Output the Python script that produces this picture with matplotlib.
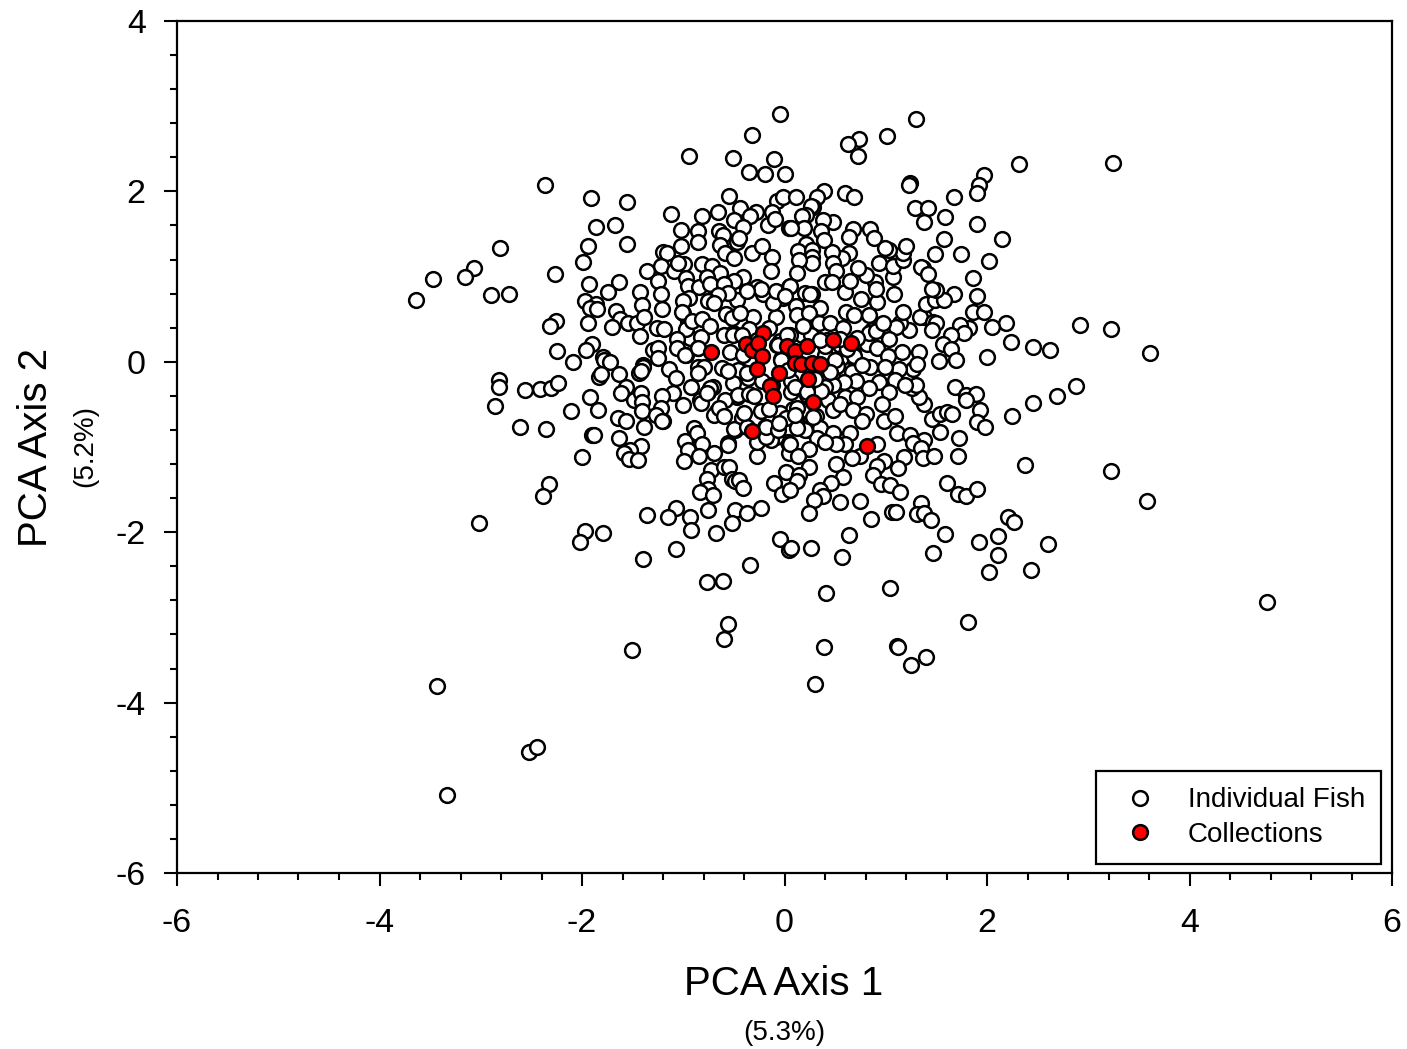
"""
PCA of individual fish and collections, axis 1 against axis 2.
Values read off the picture.
"""

import matplotlib
matplotlib.use("Agg")
import matplotlib.pyplot as plt
from matplotlib.ticker import MultipleLocator

plt.rcParams["font.family"] = ["Liberation Sans", "DejaVu Sans"]
plt.rcParams["axes.unicode_minus"] = False

fish_points = [
    # partly hidden ones in the crowded middle, these go underneath
    (-0.69,0.77),(0.86,0.37),(0.55,0.20),(0.68,0.10),(0.81,0.21),(0.59,-0.08),(0.67,-0.12),(0.42,-0.17),
    (0.34,-0.05),(-0.41,-0.12),(-0.85,-0.06),(-0.71,-0.29),(-0.76,-0.35),(-0.47,-0.41),(-0.67,-0.58),(-0.70,-0.62),
    (-0.42,-0.66),(-0.49,-0.80),(-0.19,-0.76),(-0.14,-0.90),(0.08,-0.55),(0.18,-0.58),(-0.04,-0.60),(0.15,-0.76),
    (0.22,-0.80),(0.03,-0.94),(-0.08,-0.88),(-0.56,-0.95),(-0.82,-0.96),(-0.93,0.28),(-0.97,0.08),(-0.85,0.16),
    (-0.95,0.47),(-1.0,0.57),(-0.66,0.79),(-0.47,0.73),(-0.37,0.85),(-0.01,0.75),(0.27,0.79),(-0.21,0.79),
    (-0.51,0.34),(0.42,0.26),(-0.04,0.24),(-0.07,0.20),(0.17,0.32),(-0.03,0.03),(-0.46,-0.10),(0.06,-0.23),
    (0.48,-0.53),(0.43,-0.45),(0.22,-0.39),(0.13,-0.56),
    # upper left
    (-0.04,2.91),(-0.32,2.66),(-0.94,2.41),(-0.51,2.39),(-0.10,2.38),(-0.35,2.23),(-0.19,2.21),(0.0,2.20),
    (-2.37,2.07),(-1.91,1.92),(-1.56,1.87),(-0.55,1.95),(-0.07,1.89),(-0.01,1.93),(-1.12,1.73),(-0.66,1.76),
    (-0.81,1.71),(-0.44,1.80),(-0.28,1.76),(-0.12,1.76),(-0.34,1.71),(-0.50,1.66),(-0.41,1.58),(-0.16,1.61),
    (-0.09,1.68),(0.04,1.57),(-1.86,1.58),(-1.67,1.60),(-1.56,1.38),(-1.94,1.36),(-1.99,1.17),(-2.27,1.03),
    (-2.81,1.34),(-3.07,1.10),(-2.90,0.78),(-2.72,0.79),(-3.64,0.73),(-3.47,0.97),(-3.16,0.99),
    (-1.02,1.55),(-0.85,1.53),(-0.85,1.41),(-1.02,1.36),(-0.65,1.53),(-0.61,1.49),(-0.64,1.37),(-0.59,1.28),
    (-0.50,1.22),(-0.47,1.41),(-0.45,1.45),(-0.32,1.28),(-0.22,1.36),(-0.12,1.23),(-0.13,1.06),(-1.20,1.29),
    (-1.16,1.28),(-1.22,1.12),(-1.36,1.07),(-1.09,1.06),(-0.99,1.15),(-1.05,1.16),(-0.81,1.15),(-0.72,1.13),
    (-0.64,1.04),(-0.41,1.00),(-0.50,0.95),(-1.25,0.95),(-0.97,0.98),(-0.95,0.89),(-0.84,0.88),(-0.77,1.00),
    (-0.74,0.91),(-0.60,0.91),(-0.56,0.81),(-0.66,0.78),(-0.76,0.71),(-0.70,0.69),(-0.94,0.75),(-1.0,0.71),
    (-1.01,0.58),(-1.22,0.80),(-1.21,0.62),(-1.43,0.82),(-1.41,0.67),(-1.63,0.94),(-1.74,0.82),(-1.93,0.91),
    (-1.97,0.71),(-1.86,0.68),(-1.92,0.63),(-1.85,0.62),(-1.66,0.60),(-1.62,0.50),(-1.70,0.41),(-1.55,0.45),
    (-1.46,0.45),(-1.39,0.53),(-1.94,0.45),(-2.26,0.48),(-2.32,0.42),(-1.43,0.30),(-1.26,0.40),(-1.19,0.39),
    (-0.97,0.38),(-0.91,0.48),(-0.81,0.50),(-0.74,0.42),(-0.58,0.56),(-0.52,0.51),(-0.31,0.52),(-0.08,0.52),
    (-0.44,0.57),(-0.11,0.69),(-0.27,0.88),(-0.23,0.86),(-0.08,0.83),(-0.37,0.83),(0.04,0.88),(-0.35,0.38),
    (-0.60,0.31),(-0.82,0.29),(-1.06,0.27),(-1.90,0.21),(-1.96,0.14),(-2.25,0.13),(-2.09,0.0),(-1.79,0.06),
    (-1.78,0.02),(-1.72,0.0),(-1.30,0.14),(-1.25,0.16),(-1.25,0.04),(-1.40,-0.04),(-1.06,0.16),(-0.98,0.08),
    (-0.85,0.16),(-0.54,0.11),(-0.51,0.32),(-0.41,0.08),(-0.06,0.20),(-0.03,0.02),
    # upper right
    (1.30,2.85),(1.01,2.65),(0.74,2.61),(0.63,2.56),(0.73,2.42),(2.32,2.32),(1.97,2.19),(1.92,2.07),(1.90,1.98),
    (1.24,2.10),(1.23,2.07),(1.67,1.93),(0.60,1.98),(0.69,1.93),(0.39,2.01),(0.32,1.94),(0.11,1.94),(1.29,1.81),
    (1.42,1.80),(1.38,1.64),(1.59,1.70),(1.90,1.62),(2.15,1.44),(1.58,1.44),(1.49,1.27),(1.74,1.26),(2.02,1.18),
    (1.86,0.98),(1.90,0.77),(1.67,0.79),(1.86,0.59),(1.97,0.59),(2.19,0.45),(2.05,0.41),(2.92,0.43),(2.24,0.23),
    (2.45,0.17),(2.62,0.14),(2.0,0.06),(1.82,0.40),(1.73,0.43),(1.77,0.34),(1.64,0.31),(1.57,0.21),(1.64,0.15),
    (1.69,0.02),(1.53,0.01),(1.33,0.11),(1.16,0.11),(1.23,0.37),(1.14,0.46),(1.10,0.41),(1.17,0.59),(1.08,0.79),
    (0.91,0.70),(0.83,0.55),(0.76,0.74),(0.60,0.82),(0.65,0.95),(0.89,0.94),(0.90,0.86),(0.80,1.02),(0.73,1.10),
    (0.93,1.16),(1.07,0.99),(1.07,1.12),(1.17,1.20),(1.17,1.28),(1.20,1.36),(1.03,1.31),(0.99,1.33),(0.84,1.56),
    (0.88,1.45),(0.68,1.56),(0.64,1.46),(0.64,1.28),(0.57,1.22),(0.47,1.29),(0.48,1.64),(0.38,1.66),(0.36,1.53),
    (0.39,1.43),(0.28,1.82),(0.26,1.83),(0.21,1.72),(0.17,1.71),(0.19,1.57),(0.06,1.57),(0.21,1.38),(0.13,1.30),
    (0.27,1.31),(0.27,1.23),(0.27,1.16),(0.14,1.19),(0.12,1.04),(0.48,1.16),(0.51,1.06),(0.40,0.94),(0.47,0.94),
    (0.05,0.89),(0.20,0.81),(0.25,0.79),(0.0,0.77),(0.11,0.66),(0.12,0.55),(0.35,0.63),(0.24,0.57),(0.34,0.46),
    (0.45,0.45),(0.58,0.40),(0.61,0.58),(0.69,0.55),(0.05,0.32),(0.26,0.32),(0.83,0.34),(0.90,0.36),(0.97,0.45),
    (1.03,0.27),(0.91,0.16),(1.02,0.07),(0.56,0.04),(0.69,0.07),(0.40,0.08),(1.38,0.53),(1.34,0.53),(1.47,0.47),
    (1.50,0.46),(1.46,0.37),(1.40,0.68),(1.49,0.72),(1.58,0.72),(1.50,0.84),(1.46,0.86),(1.37,1.10),(1.35,1.11),
    (1.42,1.03),(3.24,2.33),(3.22,0.38),(3.61,0.10),
    # lower left
    (-2.82,-0.21),(-2.82,-0.30),(-2.56,-0.33),(-2.41,-0.32),(-2.31,-0.31),(-2.24,-0.25),(-2.86,-0.52),(-2.61,-0.77),
    (-2.36,-0.79),(-2.11,-0.58),(-1.92,-0.41),(-1.84,-0.56),(-1.83,-0.18),(-1.81,-0.14),(-1.63,-0.14),(-1.57,-0.29),
    (-1.61,-0.37),(-1.49,-0.45),(-1.42,-0.37),(-1.41,-0.47),(-1.41,-0.58),(-1.44,-0.13),(-1.40,-0.06),(-1.42,-0.11),
    (-1.14,-0.09),(-1.07,-0.19),(-0.92,-0.29),(-1.10,-0.37),(-1.21,-0.40),(-1.0,-0.51),(-0.83,-0.45),(-0.82,-0.48),
    (-0.74,-0.31),(-0.77,-0.37),(-0.59,-0.45),(-0.65,-0.54),(-0.51,-0.25),(-0.62,-0.07),(-0.80,-0.06),(-0.85,-0.13),
    (-0.56,-0.11),(-0.46,-0.39),(-0.35,-0.38),(-0.36,-0.19),(-0.37,-0.13),(-1.22,-0.54),(-1.27,-0.62),(-1.20,-0.70),
    (-1.21,-0.70),(-1.64,-0.66),(-1.57,-0.69),(-1.39,-0.77),(-1.90,-0.86),(-1.88,-0.86),(-1.63,-0.90),(-1.42,-0.99),
    (-1.53,-1.04),(-1.59,-1.07),(-1.54,-1.14),(-1.45,-1.15),(-2.0,-1.12),(-2.33,-1.44),(-2.39,-1.57),(-3.02,-1.89),
    (-1.36,-1.80),(-1.07,-1.72),(-1.15,-1.82),(-0.93,-1.82),(-0.92,-1.97),(-0.76,-1.74),(-0.68,-2.01),(-0.49,-1.74),
    (-0.52,-1.89),(-0.37,-1.78),(-0.23,-1.72),(-1.97,-1.99),(-2.02,-2.12),(-1.79,-2.01),(-1.07,-2.20),(-1.40,-2.32),
    (-0.34,-2.38),(-0.77,-2.58),(-0.61,-2.57),(-0.04,-2.08),(0.04,-2.21),(-0.56,-3.08),(-0.98,-0.93),(-0.89,-0.78),
    (-0.86,-0.83),(-0.81,-0.97),(-0.95,-1.04),(-0.84,-1.11),(-0.99,-1.16),(-0.70,-1.07),(-0.56,-0.98),(-0.73,-1.27),
    (-0.60,-1.24),(-0.55,-1.24),(-0.77,-1.37),(-0.76,-1.49),(-0.83,-1.53),(-0.71,-1.56),(-0.52,-1.37),(-0.49,-1.40),
    (-0.45,-1.39),(-0.41,-1.48),(-0.10,-1.42),(-0.02,-1.55),(0.01,-1.29),(-0.27,-1.10),(-0.27,-0.94),(-0.13,-0.92),
    (-0.18,-0.88),(-0.50,-0.79),(-0.37,-0.76),(-0.60,-0.64),(-0.23,-0.58),(-0.18,-0.76),(-0.06,-0.80),(0.01,-0.66),
    (0.04,-0.97),(0.04,-1.07),(-3.43,-3.81),(-3.33,-5.09),(-2.52,-4.58),(-2.44,-4.52),(-1.51,-3.38),(-0.60,-3.25),
    # lower right
    (2.88,-0.28),(2.69,-0.40),(2.45,-0.48),(2.25,-0.64),(2.38,-1.21),(1.68,-0.30),(1.79,-0.39),(1.89,-0.38),
    (1.79,-0.45),(1.93,-0.56),(1.90,-0.71),(1.98,-0.77),(1.46,-0.67),(1.54,-0.61),(1.60,-0.59),(1.65,-0.61),
    (1.54,-0.82),(1.72,-0.89),(1.71,-1.10),(1.38,-0.49),(1.33,-0.41),(1.26,-0.31),(1.30,-0.27),(1.27,-0.09),
    (1.31,-0.02),(1.13,-0.09),(1.09,-0.21),(1.19,-0.27),(0.99,-0.06),(0.84,-0.06),(0.77,-0.04),(0.93,-0.24),
    (1.03,-0.35),(0.83,-0.31),(0.71,-0.22),(0.59,-0.24),(0.48,-0.27),(0.40,-0.29),(0.60,-0.41),(0.72,-0.41),
    (0.36,-0.34),(0.48,-0.56),(0.55,-0.50),(0.68,-0.56),(0.96,-0.50),(0.80,-0.61),(0.77,-0.69),(0.98,-0.70),
    (1.09,-0.64),(1.11,-0.84),(1.24,-0.86),(1.38,-0.92),(1.27,-0.95),(1.35,-1.01),(1.37,-1.13),(1.48,-1.10),
    (1.18,-1.12),(1.12,-1.25),(0.98,-1.17),(0.91,-1.22),(0.87,-1.33),(0.95,-1.43),(1.04,-1.45),(1.14,-1.53),
    (0.91,-0.97),(0.75,-1.10),(0.67,-1.13),(0.51,-1.20),(0.58,-1.35),(0.46,-1.42),(0.35,-1.51),(0.38,-1.58),
    (0.29,-1.62),(0.55,-1.64),(0.75,-1.63),(0.24,-1.78),(0.85,-1.84),(1.06,-1.76),(1.10,-1.76),(1.35,-1.66),
    (1.31,-1.79),(1.38,-1.78),(1.45,-1.86),(1.59,-2.02),(1.60,-1.42),(1.71,-1.55),(1.79,-1.58),(1.90,-1.49),
    (2.21,-1.82),(2.27,-1.88),(2.11,-2.04),(1.92,-2.12),(2.11,-2.27),(1.47,-2.24),(2.02,-2.47),(2.43,-2.44),
    (2.60,-2.14),(0.64,-2.03),(0.26,-2.19),(0.06,-2.19),(0.57,-2.29),(0.41,-2.71),(1.04,-2.65),(1.81,-3.05),
    (0.39,-3.35),(1.11,-3.34),(1.12,-3.35),(1.25,-3.56),(1.40,-3.46),(0.30,-3.78),(4.77,-2.82),(3.58,-1.63),(3.22,-1.28),
    (0.06,-0.35),(0.31,-0.64),(0.17,-0.56),(0.12,-0.54),(0.35,-0.78),(0.48,-0.84),(0.65,-0.84),(0.60,-0.97),
    (0.32,-0.90),(0.24,-1.02),(0.20,-0.80),(0.12,-0.78),(0.05,-0.97),(0.13,-1.11),(0.24,-1.23),(0.14,-1.33),
    (0.12,-1.40),(0.05,-1.50),(0.51,-0.97),(0.40,-0.94),
    # dense middle
    (0.03,-0.10),(-0.12,-0.27),(-0.22,-0.22),(0.10,-0.30),(0.22,-0.35),(0.30,-0.20),(0.40,0.18),(0.52,-0.05),
    (0.35,0.25),(0.18,0.42),(0.02,0.32),(-0.15,0.40),(-0.27,0.25),(0.50,0.02),(0.45,-0.12),(0.62,0.15),
    (0.72,0.28),(0.55,0.27),(-0.42,0.32),(-0.30,-0.40),(-0.15,-0.55),(-0.40,-0.60),(0.10,-0.62),(-0.05,-0.72),(0.28,-0.65),
]

collection_points = [
    (-0.73,0.12),(-0.38,0.21),(-0.21,0.34),(-0.32,0.14),(-0.26,0.22),(-0.22,0.07),(-0.27,-0.08),(-0.05,-0.13),
    (-0.14,-0.28),(-0.11,-0.40),(-0.32,-0.81),(0.02,0.19),(0.10,0.13),(0.22,0.18),(0.48,0.25),(0.66,0.22),
    (0.10,-0.01),(0.16,-0.02),(0.27,-0.01),(0.35,-0.02),(0.23,-0.20),(0.28,-0.47),(0.81,-0.99),
]

fish_x, fish_y = zip(*fish_points)
coll_x, coll_y = zip(*collection_points)

W, H = 1407.0, 1049.0
fig = plt.figure(figsize=(14.07, 10.49), dpi=100)
ax = fig.add_axes([177 / W, 1 - 873 / H, (1392 - 177) / W, (873 - 21) / H])

ax.plot(fish_x, fish_y, "o", ms=10.6, mfc="white", mec="black", mew=1.8, ls="none", label="Individual Fish")
ax.plot(coll_x, coll_y, "o", ms=10.6, mfc="#ff0000", mec="black", mew=1.8, ls="none", label="Collections")

ax.set_xlim(-6, 6)
ax.set_ylim(-6, 4)
ax.xaxis.set_major_locator(MultipleLocator(2))
ax.yaxis.set_major_locator(MultipleLocator(2))
ax.xaxis.set_minor_locator(MultipleLocator(0.4))
ax.yaxis.set_minor_locator(MultipleLocator(0.4))
ax.tick_params(which="major", length=9.5, width=1.5, labelsize=24.5)
ax.tick_params(axis="x", which="major", pad=16)
ax.tick_params(axis="y", which="major", pad=13)
ax.tick_params(which="minor", length=5, width=1.5)
for spine in ax.spines.values():
    spine.set_linewidth(1.6)

fig.text(784 / W, 1 - 984 / H, "PCA Axis 1", fontsize=29, ha="center", va="center")
fig.text(784 / W, 1 - 1033 / H, "(5.3%)", fontsize=20, ha="center", va="center")
fig.text(36 / W, 1 - 447 / H, "PCA Axis 2", fontsize=29, ha="center", va="center", rotation=90)
fig.text(85 / W, 1 - 446 / H, "(5.2%)", fontsize=20, ha="center", va="center", rotation=90)

leg = ax.legend(loc="lower right", bbox_to_anchor=(1381 / W, 1 - 864 / H), bbox_transform=fig.transFigure,
                fontsize=20, frameon=True, fancybox=False, framealpha=1, edgecolor="black",
                borderaxespad=0, borderpad=0.58, labelspacing=0.31, handlelength=2.0, handletextpad=0.72)
leg.get_frame().set_linewidth(1.6)

fig.savefig("out.png", dpi=100)
